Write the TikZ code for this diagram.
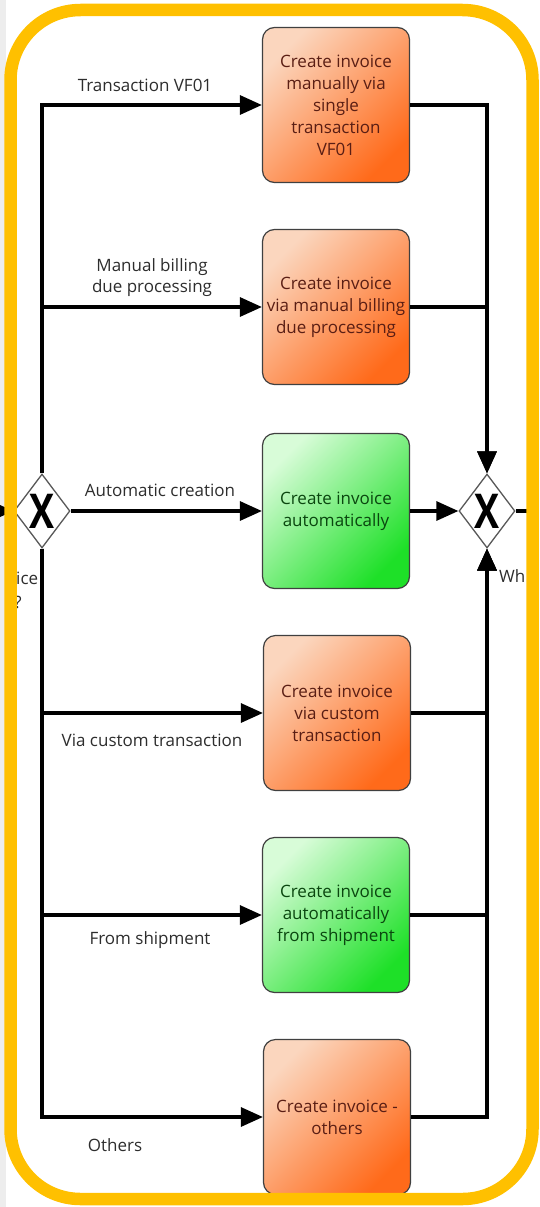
\documentclass[tikz,border=0pt]{standalone}
\usepackage{fontspec}
\setmainfont{Open Sans}
\usetikzlibrary{shapes.geometric,arrows.meta}

\definecolor{framegold}{RGB}{255,192,0}
\definecolor{orlite}{RGB}{251,214,190}
\definecolor{ormid}{RGB}{247,138,74}
\definecolor{ordeep}{RGB}{255,106,26}
\definecolor{grlite}{RGB}{216,252,216}
\definecolor{grmid}{RGB}{96,232,96}
\definecolor{grdeep}{RGB}{30,224,40}
\definecolor{ortext}{RGB}{90,30,20}
\definecolor{grtext}{RGB}{10,70,15}
\definecolor{labtext}{RGB}{45,45,45}

\begin{document}
\begin{tikzpicture}[x=1pt,y=-1pt,
  task/.style={draw=black!75, line width=1.2pt, rounded corners=12pt, minimum width=147pt, minimum height=155pt, align=center, inner sep=1pt, font=\fontsize{17}{22}\selectfont},
  orangetask/.style={task, top color=orlite, middle color=ormid, bottom color=ordeep, shading angle=45, text=ortext},
  greentask/.style={task, top color=grlite, middle color=grmid, bottom color=grdeep, shading angle=45, text=grtext},
  gate/.style={diamond, draw=black!65, line width=1.3pt, fill=white, minimum width=56pt, minimum height=74pt, inner sep=0pt, label={[font=\fontsize{48}{48}\selectfont\bfseries]center:\scalebox{.78}[1]{X}}},
  flow/.style={line width=3.1pt, -{Triangle[length=22pt,width=19pt]}},
  flowline/.style={line width=3.1pt},
  lab/.style={font=\fontsize{17}{21}\selectfont, text=labtext, align=center, inner sep=0pt}]
\useasboundingbox (0,0) rectangle (539,1207);
\fill[black!7] (0,0) rectangle (6,1207);

% gateways
\node[gate] (gl) at (42,511) {};
\node[gate] (gr) at (487,511) {};

% tasks
\node[orangetask] (t1) at (336,105) {Create invoice\\manually via\\single\\transaction\\VF01};
\node[orangetask] (t2) at (336,307) {Create invoice\\via manual billing\\due processing};
\node[greentask] (t3) at (336,511) {Create invoice\\automatically};
\node[orangetask] (t4) at (337,713) {Create invoice\\via custom\\transaction};
\node[greentask] (t5) at (336,915) {Create invoice\\automatically\\from shipment};
\node[orangetask] (t6) at (337,1117) {Create invoice -\\others};

\coordinate (in) at (0,511);
\coordinate (out) at (539,511);

\draw[flow] (in) -- (gl.west);
\foreach \t in {t1,t2}{\draw[flow] (gl.north) |- (\t.west);}
\draw[flow] (gl.east) -- (t3.west);
\foreach \t in {t4,t5,t6}{\draw[flow] (gl.south) |- (\t.west);}

\foreach \t in {t1,t2}{\draw[flow] (\t.east) -| (gr.north);}
\draw[flow] (t3.east) -- (gr.west);
\foreach \t in {t4,t5,t6}{\draw[flow] (\t.east) -| (gr.south);}
\draw[flowline] (gr.east) -- (out);

% labels
\node[lab] (l1) at (145,85) {Transaction VF01};
\node[lab] (l2) at (152,278) {Manual billing\\due processing};
\node[lab] (l3) at (160,490) {Automatic creation};
\node[lab] (l4) at (152,740) {Via custom transaction};
\node[lab] (l5) at (150,940) {From shipment};
\node[lab] (l6) at (115,1145) {Others};
\node[lab, anchor=west] (l7) at (16,578) {ice};
\node[lab] (l8) at (18,602) {?};
\node[lab, anchor=west] (l9) at (499,576) {Wh};

\draw[framegold, line width=12.5pt, rounded corners=70pt] (10.5,10) rectangle (532.5,1199);
\end{tikzpicture}
\end{document}
